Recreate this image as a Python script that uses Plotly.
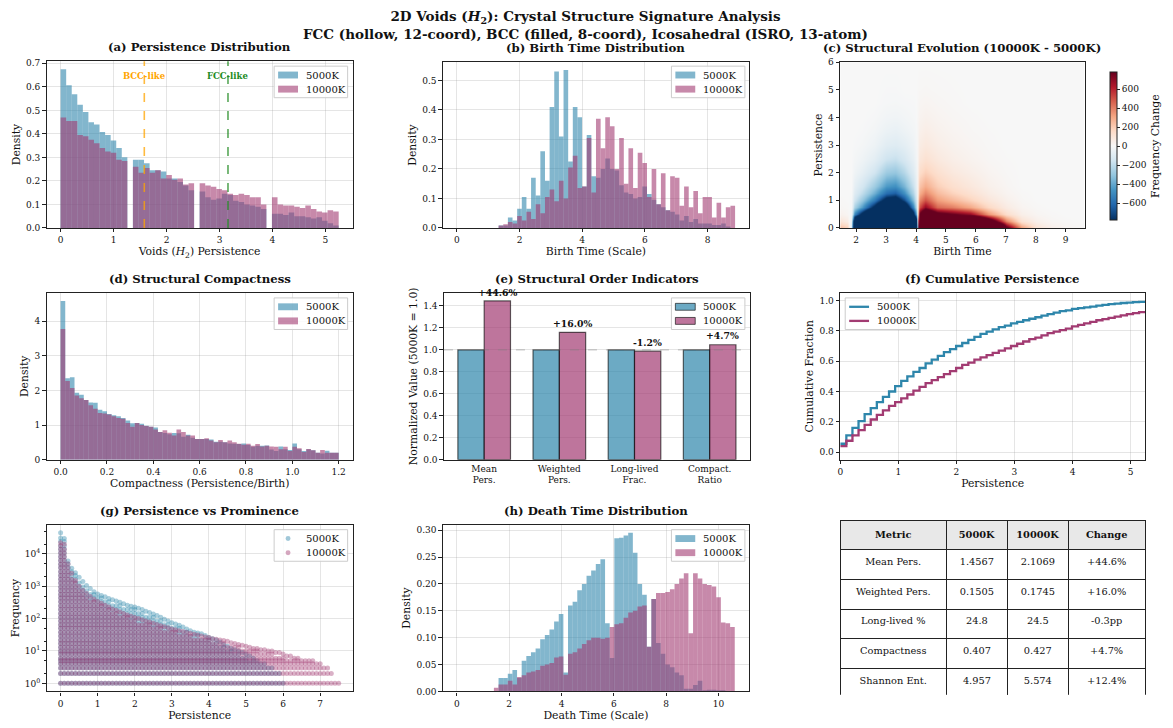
import numpy as np
import plotly.graph_objects as go

W, H = 1173, 728
FONT = "DejaVu Serif"
C5 = "#2E86AB"
C10 = "#A23B72"


def rgba(hexc, a):
    h = hexc.lstrip("#")
    return f"rgba({int(h[0:2],16)},{int(h[2:4],16)},{int(h[4:6],16)},{a})"


# ======================= DATA =======================
SERIES = ["5000K", "10000K"]

# (a) persistence histogram (density), 50 bins from 0 to 5.25
PERS_BIN_START = 0.0
PERS_BIN_WIDTH = 0.105
PERS_DENS_5000 = [0.675, 0.607, 0.569, 0.524, 0.493, 0.449, 0.440, 0.408, 0.395, 0.372, 0.340, 0.300, 0.0,
                  0.290, 0.290, 0.275, 0.245, 0.245, 0.240, 0.210, 0.210, 0.195, 0.180, 0.160, 0.0,
                  0.155, 0.130, 0.120, 0.125, 0.145, 0.140, 0.115, 0.110, 0.100, 0.095, 0.090, 0.080, 0.0,
                  0.060, 0.060, 0.055, 0.065, 0.050, 0.050, 0.045, 0.040, 0.045, 0.030, 0.020, 0.010]
PERS_DENS_10000 = [0.470, 0.455, 0.455, 0.395, 0.390, 0.375, 0.360, 0.340, 0.325, 0.320, 0.290, 0.285, 0.0,
                   0.260, 0.235, 0.255, 0.235, 0.245, 0.210, 0.225, 0.205, 0.210, 0.185, 0.190, 0.0,
                   0.190, 0.180, 0.175, 0.165, 0.160, 0.145, 0.140, 0.145, 0.140, 0.130, 0.130, 0.100, 0.0,
                   0.130, 0.100, 0.095, 0.095, 0.090, 0.085, 0.095, 0.080, 0.070, 0.065, 0.075, 0.070]
BCC_LINE = 1.58
FCC_LINE = 3.16

# (b) birth time histogram, 60 bins from 0
BIRTH_BIN_WIDTH = 0.148
BIRTH_DENS_5000 = [0, 0, 0, 0, 0, 0, 0, 0, 0, 0.008,
                   0.008, 0.035, 0.025, 0.065, 0.105, 0.065, 0.170, 0.110, 0.260, 0.160,
                   0.410, 0.530, 0.310, 0.535, 0.225, 0.410, 0.375, 0.140, 0.315, 0.175,
                   0.170, 0.200, 0.235, 0.200, 0.195, 0.145, 0.120, 0.115, 0.100, 0.105,
                   0.140, 0.115, 0.095, 0.080, 0.070, 0.060, 0.055, 0.045, 0.025, 0.040,
                   0.020, 0.030, 0.015, 0.015, 0.015, 0.010, 0.010, 0.015, 0.005, 0.0]
BIRTH_DENS_10000 = [0, 0, 0, 0, 0, 0, 0, 0, 0, 0.008,
                    0.012, 0.020, 0.015, 0.040, 0.025, 0.055, 0.030, 0.080, 0.050, 0.105,
                    0.130, 0.090, 0.160, 0.100, 0.205, 0.245, 0.135, 0.140, 0.305, 0.120,
                    0.370, 0.270, 0.375, 0.345, 0.200, 0.305, 0.150, 0.270, 0.135, 0.255,
                    0.220, 0.105, 0.200, 0.080, 0.185, 0.060, 0.175, 0.170, 0.075, 0.140,
                    0.070, 0.125, 0.050, 0.105, 0.105, 0.035, 0.085, 0.035, 0.070, 0.075]

# (d) compactness histogram, 60 bins from 0 to 1.2
COMP_BIN_WIDTH = 0.02
COMP_DENS_5000 = [4.58, 2.35, 2.38, 1.93, 1.87, 1.72, 1.65, 1.64, 1.44, 1.40,
                  1.32, 1.28, 1.25, 1.20, 1.13, 1.05, 1.06, 1.04, 0.98, 0.95,
                  0.93, 0.80, 0.77, 0.73, 0.77, 0.76, 0.66, 0.72, 0.63, 0.60,
                  0.60, 0.60, 0.58, 0.52, 0.52, 0.50, 0.47, 0.46, 0.45, 0.47,
                  0.42, 0.37, 0.40, 0.40, 0.41, 0.29, 0.25, 0.38, 0.30, 0.28,
                  0.47, 0.30, 0.25, 0.30, 0.27, 0.20, 0.18, 0.26, 0.20, 0.20]
COMP_DENS_10000 = [3.77, 2.27, 2.07, 1.85, 1.77, 1.72, 1.57, 1.47, 1.35, 1.33,
                   1.30, 1.25, 1.20, 1.18, 1.06, 0.95, 1.06, 1.00, 0.97, 0.95,
                   0.87, 0.80, 0.85, 0.78, 0.70, 0.87, 0.80, 0.70, 0.70, 0.60,
                   0.60, 0.62, 0.55, 0.50, 0.57, 0.50, 0.55, 0.50, 0.46, 0.43,
                   0.46, 0.40, 0.45, 0.38, 0.40, 0.38, 0.37, 0.30, 0.37, 0.25,
                   0.37, 0.33, 0.22, 0.31, 0.27, 0.20, 0.28, 0.20, 0.20, 0.20]

# (h) death time histogram, 60 bins from 0
DEATH_BIN_WIDTH = 0.177
DEATH_DENS_5000 = [0, 0, 0, 0, 0, 0, 0, 0, 0, 0.025,
                   0.025, 0.033, 0.040, 0.025, 0.057, 0.066, 0.073, 0.080, 0.097, 0.105,
                   0.115, 0.130, 0.144, 0.035, 0.160, 0.167, 0.188, 0.200, 0.215, 0.225,
                   0.237, 0.246, 0.127, 0.062, 0.285, 0.286, 0.290, 0.295, 0.258, 0.200,
                   0.180, 0.083, 0.172, 0.090, 0.070, 0.050, 0.045, 0.035, 0.030, 0.005,
                   0.005, 0.012, 0.020, 0.002, 0.003, 0.003, 0.002, 0.002, 0.0, 0.0]
DEATH_DENS_10000 = [0, 0, 0, 0, 0, 0, 0, 0, 0.007, 0.013,
                    0.013, 0.020, 0.013, 0.027, 0.030, 0.035, 0.037, 0.040, 0.048, 0.050,
                    0.053, 0.063, 0.065, 0.031, 0.070, 0.073, 0.080, 0.088, 0.095, 0.100,
                    0.100, 0.098, 0.100, 0.120, 0.125, 0.127, 0.137, 0.147, 0.150, 0.158,
                    0.160, 0.083, 0.172, 0.183, 0.183, 0.185, 0.190, 0.200, 0.210, 0.220,
                    0.108, 0.220, 0.210, 0.200, 0.198, 0.195, 0.175, 0.128, 0.127, 0.120]

# (e) structural order indicators
ORDER_CATS = ["Mean<br>Pers.", "Weighted<br>Pers.", "Long-lived<br>Frac.", "Compact.<br>Ratio"]
ORDER_5000 = [1.0, 1.0, 1.0, 1.0]
ORDER_10000 = [1.446, 1.160, 0.988, 1.047]
ORDER_LABELS = ["+44.6%", "+16.0%", "-1.2%", "+4.7%"]

# (f) cumulative persistence, values at each step edge (step 0.105)
CDF_STEP = 0.105
CDF_5000 = [0.055, 0.11, 0.16, 0.205, 0.25, 0.29, 0.33, 0.365, 0.40, 0.435,
            0.47, 0.50, 0.53, 0.555, 0.585, 0.61, 0.635, 0.66, 0.68, 0.70,
            0.72, 0.74, 0.76, 0.78, 0.795, 0.81, 0.825, 0.835, 0.85, 0.86,
            0.87, 0.88, 0.89, 0.90, 0.91, 0.92, 0.93, 0.935, 0.945, 0.95,
            0.955, 0.96, 0.967, 0.972, 0.976, 0.98, 0.984, 0.987, 0.99, 0.992, 0.994]
CDF_10000 = [0.04, 0.075, 0.11, 0.145, 0.18, 0.215, 0.245, 0.275, 0.305, 0.33,
             0.355, 0.38, 0.405, 0.43, 0.455, 0.475, 0.495, 0.515, 0.535, 0.555,
             0.575, 0.59, 0.61, 0.625, 0.64, 0.655, 0.67, 0.685, 0.70, 0.715,
             0.73, 0.745, 0.755, 0.77, 0.785, 0.795, 0.805, 0.815, 0.83, 0.84,
             0.85, 0.86, 0.87, 0.878, 0.886, 0.894, 0.902, 0.91, 0.917, 0.924, 0.93]

# (g) persistence vs prominence: columns of persistence, upper envelope of frequency
SCAT_PERS = [round(0.1 * i, 1) for i in range(76)]
SCAT_MAX_5000 = [45000, 30000, 6000, 3600, 2600, 1900, 1400, 1050, 850, 680,
                 580, 520, 470, 420, 380, 350, 320, 290, 260, 240,
                 230, 210, 190, 170, 155, 140, 125, 110, 95, 85,
                 75, 68, 62, 55, 48, 42, 38, 36, 34, 30,
                 26, 24, 22, 19, 16, 14, 12, 11, 10, 9,
                 8, 7, 6, 5, 4, 4, 3, 3, 2, 2,
                 1, 0, 0, 0, 0, 0, 0, 0, 0, 0,
                 0, 0, 0, 0, 0, 0]
SCAT_MAX_10000 = [22000, 20000, 5000, 2500, 1500, 1000, 750, 600, 480, 400,
                  340, 300, 260, 230, 200, 180, 160, 145, 130, 118,
                  108, 100, 92, 85, 78, 72, 66, 60, 56, 52,
                  48, 45, 42, 40, 38, 35, 33, 31, 29, 27,
                  26, 24, 23, 22, 21, 20, 18, 17, 16, 15,
                  14, 13, 12, 12, 11, 11, 10, 10, 9, 9,
                  8, 7, 7, 6, 6, 5, 5, 5, 5, 4,
                  4, 3, 3, 2, 1, 1]
SCAT_LEVELS = [1, 2, 3, 4, 5, 6, 8, 10, 13, 17, 22, 29, 38, 50, 65, 85, 110, 145, 190,
               250, 330, 430, 560, 730, 950, 1250, 1650, 2150, 2800, 3700, 4800, 6300,
               8200, 10700, 14000, 18000, 24000, 31000, 40000]

# (c) structural evolution: frequency change (10000K - 5000K) on a birth x persistence grid
HM_BIRTH = [1.47, 1.7, 1.85, 1.95, 2.2, 2.6, 3.0, 3.3, 3.6, 3.9, 4.0, 4.1, 4.3, 4.7,
            5.2, 5.8, 6.4, 7.0, 7.5, 8.0, 8.5, 9.0, 9.63]
HM_PERS = [0, 0.25, 0.5, 0.75, 1.0, 1.25, 1.5, 2.0, 2.5, 3.0, 3.5, 4.0, 4.5, 5.0, 6.0]
HM_DIFF_BY_BIRTH = [
    [250, 100, 30, 10, 5, 0, 0, 0, 0, 0, 0, 0, 0, 0, 0],
    [200, 60, 15, 5, 0, 0, 0, 0, 0, 0, 0, 0, 0, 0, 0],
    [-150, -60, -25, -12, -6, -3, 0, 0, 0, 0, 0, 0, 0, 0, 0],
    [-1500, -1200, -500, -250, -150, -100, -70, -30, -15, -5, 0, 0, 0, 0, 0],
    [-2000, -2000, -900, -450, -300, -200, -140, -70, -35, -15, -5, 0, 0, 0, 0],
    [-2500, -2500, -1500, -850, -550, -380, -280, -150, -80, -40, -20, -8, 0, 0, 0],
    [-3000, -3000, -2200, -1400, -900, -600, -450, -280, -160, -90, -50, -25, -10, -5, 0],
    [-3000, -3000, -2200, -1500, -950, -650, -480, -300, -180, -100, -60, -30, -12, -5, 0],
    [-2500, -2500, -1800, -1100, -700, -480, -360, -220, -130, -75, -40, -20, -8, 0, 0],
    [-2000, -1800, -900, -500, -330, -230, -170, -100, -60, -35, -20, -10, -5, 0, 0],
    [-1500, -1000, -400, -200, -130, -90, -60, -35, -20, -10, -5, 0, 0, 0, 0],
    [2000, 1500, 800, 500, 380, 280, 220, 140, 90, 60, 40, 25, 15, 8, 0],
    [3000, 2500, 1200, 700, 500, 380, 290, 185, 120, 80, 55, 35, 20, 10, 0],
    [3000, 2200, 900, 450, 330, 250, 190, 125, 80, 52, 35, 22, 12, 6, 0],
    [3000, 2000, 800, 400, 260, 180, 130, 80, 50, 32, 20, 12, 6, 3, 0],
    [3000, 1800, 700, 300, 180, 120, 85, 50, 28, 16, 9, 5, 0, 0, 0],
    [2500, 1100, 350, 160, 95, 60, 40, 22, 11, 6, 3, 0, 0, 0, 0],
    [900, 400, 140, 65, 38, 22, 14, 7, 3, 0, 0, 0, 0, 0, 0],
    [350, 120, 45, 20, 10, 5, 0, 0, 0, 0, 0, 0, 0, 0, 0],
    [120, 40, 15, 5, 0, 0, 0, 0, 0, 0, 0, 0, 0, 0, 0],
    [50, 15, 5, 0, 0, 0, 0, 0, 0, 0, 0, 0, 0, 0, 0],
    [20, 5, 0, 0, 0, 0, 0, 0, 0, 0, 0, 0, 0, 0, 0],
    [5, 0, 0, 0, 0, 0, 0, 0, 0, 0, 0, 0, 0, 0, 0],
]
HM_LIMIT = 780

# summary table
TABLE_HEADER = ["Metric", "5000K", "10000K", "Change"]
TABLE_METRIC = ["Mean Pers.", "Weighted Pers.", "Long-lived %", "Compactness", "Shannon Ent."]
TABLE_5000 = ["1.4567", "0.1505", "24.8", "0.407", "4.957"]
TABLE_10000 = ["2.1069", "0.1745", "24.5", "0.427", "5.574"]
TABLE_CHANGE = ["+44.6%", "+16.0%", "-0.3pp", "+4.7%", "+12.4%"]

# ======================= LAYOUT GEOMETRY =======================
BOX = {1: (44, 352, 57, 226), 2: (443, 751, 58, 226), 3: (843, 1089, 58, 226),
       4: (44, 352, 292, 461), 5: (444, 752, 292, 461), 6: (843, 1150, 292, 461),
       7: (44, 352, 527, 696), 8: (443, 751, 527, 696)}
TABLE_BOX = (843, 1151, 523, 700)
LEGEND_POS = {1: (273, 62), 2: (673, 62), 4: (273, 297), 5: (673, 297),
              6: (848, 297), 7: (273, 532), 8: (673, 532)}

TICK_SIZE = 9
LABEL_SIZE = 10.8
SUBTITLE_SIZE = 11.7
SUPTITLE_SIZE = 13.5
LEGEND_SIZE = 10


def names(n):
    if n == 1:
        return "xaxis", "yaxis", "x", "y"
    return f"xaxis{n}", f"yaxis{n}", f"x{n}", f"y{n}"


def centers(vals, width, start=0.0):
    return start + width * (np.arange(len(vals)) + 0.5)


fig = go.Figure()


def add_hist(n, v5, v10, width, start=0.0):
    _, _, xr, yr = names(n)
    for vals, col, nm in ((v5, C5, SERIES[0]), (v10, C10, SERIES[1])):
        fig.add_trace(go.Bar(x=centers(vals, width, start), y=vals, width=width, name=nm,
                             marker=dict(color=rgba(col, 0.6), line=dict(width=0)),
                             xaxis=xr, yaxis=yr, showlegend=False, hoverinfo="skip"))


add_hist(1, PERS_DENS_5000, PERS_DENS_10000, PERS_BIN_WIDTH, PERS_BIN_START)
add_hist(2, BIRTH_DENS_5000, BIRTH_DENS_10000, BIRTH_BIN_WIDTH)
add_hist(4, COMP_DENS_5000, COMP_DENS_10000, COMP_BIN_WIDTH)
add_hist(8, DEATH_DENS_5000, DEATH_DENS_10000, DEATH_BIN_WIDTH)

# (c) heatmap
RDBU_R = ["#053061", "#2166ac", "#4393c3", "#92c5de", "#d1e5f0", "#f7f7f7",
          "#fddbc7", "#f4a582", "#d6604d", "#b2182b", "#67001f"]
cs = [[i / 10, c] for i, c in enumerate(RDBU_R)]
z = np.array(HM_DIFF_BY_BIRTH, dtype=float).T
fig.add_trace(go.Heatmap(x=HM_BIRTH, y=HM_PERS, z=z, zmin=-HM_LIMIT, zmax=HM_LIMIT,
                         colorscale=cs, zsmooth="best", xaxis="x3", yaxis="y3",
                         hoverinfo="skip", showlegend=False,
                         colorbar=dict(x=1105 / W, xanchor="left", y=1 - 58 / H, yanchor="top",
                                       len=168, lenmode="pixels", thickness=7,
                                       outlinewidth=1, outlinecolor="#222",
                                       tickvals=[-600, -400, -200, 0, 200, 400, 600],
                                       ticks="outside", ticklen=3, tickcolor="#222",
                                       tickfont=dict(family=FONT, size=TICK_SIZE, color="#111"),
                                       title=dict(text="Frequency Change", side="right",
                                                  font=dict(family=FONT, size=LABEL_SIZE, color="#111")))))

# (e) grouped bars
ex = np.arange(len(ORDER_CATS))
fig.add_trace(go.Bar(x=ex, y=ORDER_5000, width=0.35, offset=-0.35, name=SERIES[0],
                     marker=dict(color=rgba(C5, 0.7), line=dict(color="rgba(0,0,0,0.6)", width=1.2)),
                     xaxis="x5", yaxis="y5", showlegend=False, hoverinfo="skip"))
fig.add_trace(go.Bar(x=ex, y=ORDER_10000, width=0.35, offset=0.0, name=SERIES[1],
                     marker=dict(color=rgba(C10, 0.7), line=dict(color="rgba(0,0,0,0.6)", width=1.2)),
                     xaxis="x5", yaxis="y5", showlegend=False, hoverinfo="skip"))

# (f) cumulative step lines
for vals, col, nm in ((CDF_5000, C5, SERIES[0]), (CDF_10000, C10, SERIES[1])):
    fx = CDF_STEP * np.arange(len(vals))
    fig.add_trace(go.Scatter(x=fx, y=vals, mode="lines", line=dict(color=col, width=2.3, shape="hv"),
                             name=nm, xaxis="x6", yaxis="y6", showlegend=False, hoverinfo="skip"))


# (g) scatter cloud
def cloud(maxvals):
    xs, ys = [], []
    for p, m in zip(SCAT_PERS, maxvals):
        if m <= 0:
            continue
        for lv in SCAT_LEVELS:
            if lv < m * 0.85:
                xs.append(p)
                ys.append(lv)
        xs.append(p)
        ys.append(m)
    return xs, ys


for maxv, col, nm in ((SCAT_MAX_5000, C5, SERIES[0]), (SCAT_MAX_10000, C10, SERIES[1])):
    gx, gy = cloud(maxv)
    fig.add_trace(go.Scatter(x=gx, y=gy, mode="markers", name=nm,
                             marker=dict(color=col, size=5, opacity=0.4, line=dict(width=0)),
                             xaxis="x7", yaxis="y7", showlegend=False, hoverinfo="skip"))

# table
fig.add_trace(go.Table(
    domain=dict(x=[TABLE_BOX[0] / W, TABLE_BOX[1] / W], y=[1 - TABLE_BOX[3] / H, 1 - TABLE_BOX[2] / H]),
    columnwidth=[107, 62, 61, 78],
    header=dict(values=[f"<b>{h}</b>" for h in TABLE_HEADER], fill_color="#E8E8E8",
                line=dict(color="#222", width=1), align="center", height=29,
                font=dict(family=FONT, size=9.8, color="#111")),
    cells=dict(values=[TABLE_METRIC, TABLE_5000, TABLE_10000, TABLE_CHANGE], fill_color="white",
               line=dict(color="#222", width=1), align="center", height=29.6,
               font=dict(family=FONT, size=9.8, color="#111"))))

# ======================= AXES =======================
AX_COMMON = dict(showline=True, mirror=True, linecolor="#222", linewidth=1.2, ticks="outside",
                 ticklen=3.5, tickwidth=1, tickcolor="#222", showgrid=True,
                 gridcolor="rgba(150,150,150,0.25)", gridwidth=0.8, zeroline=False,
                 tickfont=dict(family=FONT, size=TICK_SIZE, color="#111"))
TITLE_FONT = dict(family=FONT, size=LABEL_SIZE, color="#111")

AXES = {
    1: dict(xr=[-0.2625, 5.5125], xt=[0, 1, 2, 3, 4, 5], xf="", xl="Voids (<i>H</i><sub>2</sub>) Persistence",
            yr=[0, 0.709], yt=[0, 0.1, 0.2, 0.3, 0.4, 0.5, 0.6, 0.7], yf=".1f", yl="Density"),
    2: dict(xr=[-0.444, 9.32], xt=[0, 2, 4, 6, 8], xf="", xl="Birth Time (Scale)",
            yr=[0, 0.5618], yt=[0, 0.1, 0.2, 0.3, 0.4, 0.5], yf=".1f", yl="Density"),
    3: dict(xr=[1.47, 9.63], xt=[2, 3, 4, 5, 6, 7, 8, 9], xf="", xl="Birth Time",
            yr=[0, 6], yt=[0, 1, 2, 3, 4, 5, 6], yf="", yl="Persistence"),
    4: dict(xr=[-0.06, 1.26], xt=[0, 0.2, 0.4, 0.6, 0.8, 1.0, 1.2], xf=".1f", xl="Compactness (Persistence/Birth)",
            yr=[0, 4.81], yt=[0, 1, 2, 3, 4], yf="", yl="Density"),
    5: dict(xr=[-0.535, 3.535], xt=list(ex), xf="", xl=None,
            yr=[0, 1.5183], yt=[0, 0.2, 0.4, 0.6, 0.8, 1.0, 1.2, 1.4], yf=".1f", yl="Normalized Value (5000K = 1.0)"),
    6: dict(xr=[0, 5.25], xt=[0, 1, 2, 3, 4, 5], xf="", xl="Persistence",
            yr=[-0.05, 1.05], yt=[0, 0.2, 0.4, 0.6, 0.8, 1.0], yf=".1f", yl="Cumulative Fraction"),
    7: dict(xr=[-0.375, 7.875], xt=[0, 1, 2, 3, 4, 5, 6, 7], xf="", xl="Persistence",
            yr=[-0.25, 4.9], yt=[1, 10, 100, 1000, 10000], yf="", yl="Frequency"),
    8: dict(xr=[-0.53, 11.16], xt=[0, 2, 4, 6, 8, 10], xf="", xl="Death Time (Scale)",
            yr=[0, 0.31], yt=[0, 0.05, 0.10, 0.15, 0.20, 0.25, 0.30], yf=".2f", yl="Density"),
}

layout = dict(width=W, height=H, margin=dict(l=0, r=0, t=0, b=0), paper_bgcolor="white",
              plot_bgcolor="white", barmode="overlay", showlegend=False,
              font=dict(family=FONT, color="#111"))

for n, a in AXES.items():
    xk, yk, xr, yr = names(n)
    l, r, t, b = BOX[n]
    xa = dict(AX_COMMON, domain=[l / W, r / W], anchor=yr, range=a["xr"], tickvals=a["xt"],
              tickformat=a["xf"])
    if a["xl"]:
        xa["title"] = dict(text=a["xl"], font=TITLE_FONT, standoff=2)
    ya = dict(AX_COMMON, domain=[1 - b / H, 1 - t / H], anchor=xr, range=a["yr"], tickvals=a["yt"],
              tickformat=a["yf"], title=dict(text=a["yl"], font=TITLE_FONT, standoff=3))
    if n == 3:
        xa["showgrid"] = False
        ya["showgrid"] = False
    if n == 5:
        xa["showgrid"] = False
        xa["ticktext"] = ORDER_CATS
        xa["ticks"] = ""
    if n == 7:
        ya["type"] = "log"
        ya["ticktext"] = ["10<sup>0</sup>", "10<sup>1</sup>", "10<sup>2</sup>", "10<sup>3</sup>", "10<sup>4</sup>"]
        ya["minor"] = dict(ticks="outside", ticklen=2, tickcolor="#222", showgrid=False)
    layout[xk] = xa
    layout[yk] = ya

fig.update_layout(**layout)


# ---------------- compact matplotlib-style legends ----------------
def px_x(v):
    return v / W


def px_y(v):
    return 1 - v / H


def add_legend(n, kind):
    x0, y0 = LEGEND_POS[n]
    bw, bh = 74, 32
    fig.add_shape(type="rect", xref="paper", yref="paper", x0=px_x(x0), x1=px_x(x0 + bw),
                  y0=px_y(y0 + bh), y1=px_y(y0), line=dict(color="#cccccc", width=1),
                  fillcolor="rgba(255,255,255,0.85)", layer="above")
    for i, (col, lab) in enumerate(((C5, SERIES[0]), (C10, SERIES[1]))):
        cy = y0 + 9 + 14.3 * i
        hx0, hx1 = x0 + 4, x0 + 24
        if kind == "patch":
            fig.add_shape(type="rect", xref="paper", yref="paper", x0=px_x(hx0), x1=px_x(hx1),
                          y0=px_y(cy + 3.5), y1=px_y(cy - 3.5), line=dict(width=0),
                          fillcolor=rgba(col, 0.6), layer="above")
        elif kind == "patch_edge":
            fig.add_shape(type="rect", xref="paper", yref="paper", x0=px_x(hx0), x1=px_x(hx1),
                          y0=px_y(cy + 3.5), y1=px_y(cy - 3.5), line=dict(width=1, color="rgba(0,0,0,0.6)"),
                          fillcolor=rgba(col, 0.7), layer="above")
        elif kind == "line":
            fig.add_shape(type="line", xref="paper", yref="paper", x0=px_x(hx0), x1=px_x(hx1),
                          y0=px_y(cy), y1=px_y(cy), line=dict(width=2.3, color=col), layer="above")
        else:
            fig.add_shape(type="circle", xref="paper", yref="paper", x0=px_x(x0 + 11.5), x1=px_x(x0 + 16.5),
                          y0=px_y(cy + 2.5), y1=px_y(cy - 2.5), line=dict(width=0),
                          fillcolor=rgba(col, 0.45), layer="above")
        fig.add_annotation(x=px_x(x0 + 30), y=px_y(cy), xref="paper", yref="paper", text=lab,
                           showarrow=False, xanchor="left", yanchor="middle",
                           font=dict(family=FONT, size=LEGEND_SIZE, color="#111"))


for n in (1, 2, 4, 8):
    add_legend(n, "patch")
add_legend(5, "patch_edge")
add_legend(6, "line")
add_legend(7, "marker")

# titles
SUBTITLES = {1: "(a) Persistence Distribution", 2: "(b) Birth Time Distribution",
             3: "(c) Structural Evolution (10000K - 5000K)", 4: "(d) Structural Compactness",
             5: "(e) Structural Order Indicators", 6: "(f) Cumulative Persistence",
             7: "(g) Persistence vs Prominence", 8: "(h) Death Time Distribution"}
for n, txt in SUBTITLES.items():
    l, r, t, b = BOX[n]
    fig.add_annotation(x=(l + r) / 2 / W, y=1 - (t - 5) / H, xref="paper", yref="paper",
                       text=f"<b>{txt}</b>", showarrow=False, xanchor="center", yanchor="bottom",
                       font=dict(family=FONT, size=SUBTITLE_SIZE, color="#111"))

fig.add_annotation(x=0.5, y=1 - 1 / H, xref="paper", yref="paper", xanchor="center", yanchor="top",
                   showarrow=False,
                   text="<b>2D Voids (<i>H</i><sub>2</sub>): Crystal Structure Signature Analysis</b><br>"
                        "<b>FCC (hollow, 12-coord), BCC (filled, 8-coord), Icosahedral (ISRO, 13-atom)</b>",
                   font=dict(family=FONT, size=SUPTITLE_SIZE, color="#111"))

# (a) reference lines
for xv, col, lab in ((BCC_LINE, "#FFA500", "BCC-like"), (FCC_LINE, "#228B22", "FCC-like")):
    fig.add_shape(type="line", x0=xv, x1=xv, y0=0, y1=1, xref="x", yref="y domain",
                  line=dict(color=col, width=1.6, dash="dash"), opacity=0.75)
    fig.add_annotation(x=xv, y=0.648, xref="x", yref="y", text=f"<b>{lab}</b>", showarrow=False,
                       font=dict(family=FONT, size=8.5, color=col), xanchor="center", yanchor="middle")

# (e) reference line and labels
fig.add_shape(type="line", x0=0, x1=1, y0=1.0, y1=1.0, xref="x5 domain", yref="y5",
              line=dict(color="gray", width=1, dash="dash"), opacity=0.5)
for xi, v, lab in zip(ex, ORDER_10000, ORDER_LABELS):
    fig.add_annotation(x=xi + 0.175, y=v + 0.012, xref="x5", yref="y5", text=f"<b>{lab}</b>",
                       showarrow=False, yanchor="bottom", xanchor="center",
                       font=dict(family=FONT, size=9.3, color="#111"))

fig.write_html("out.html")
